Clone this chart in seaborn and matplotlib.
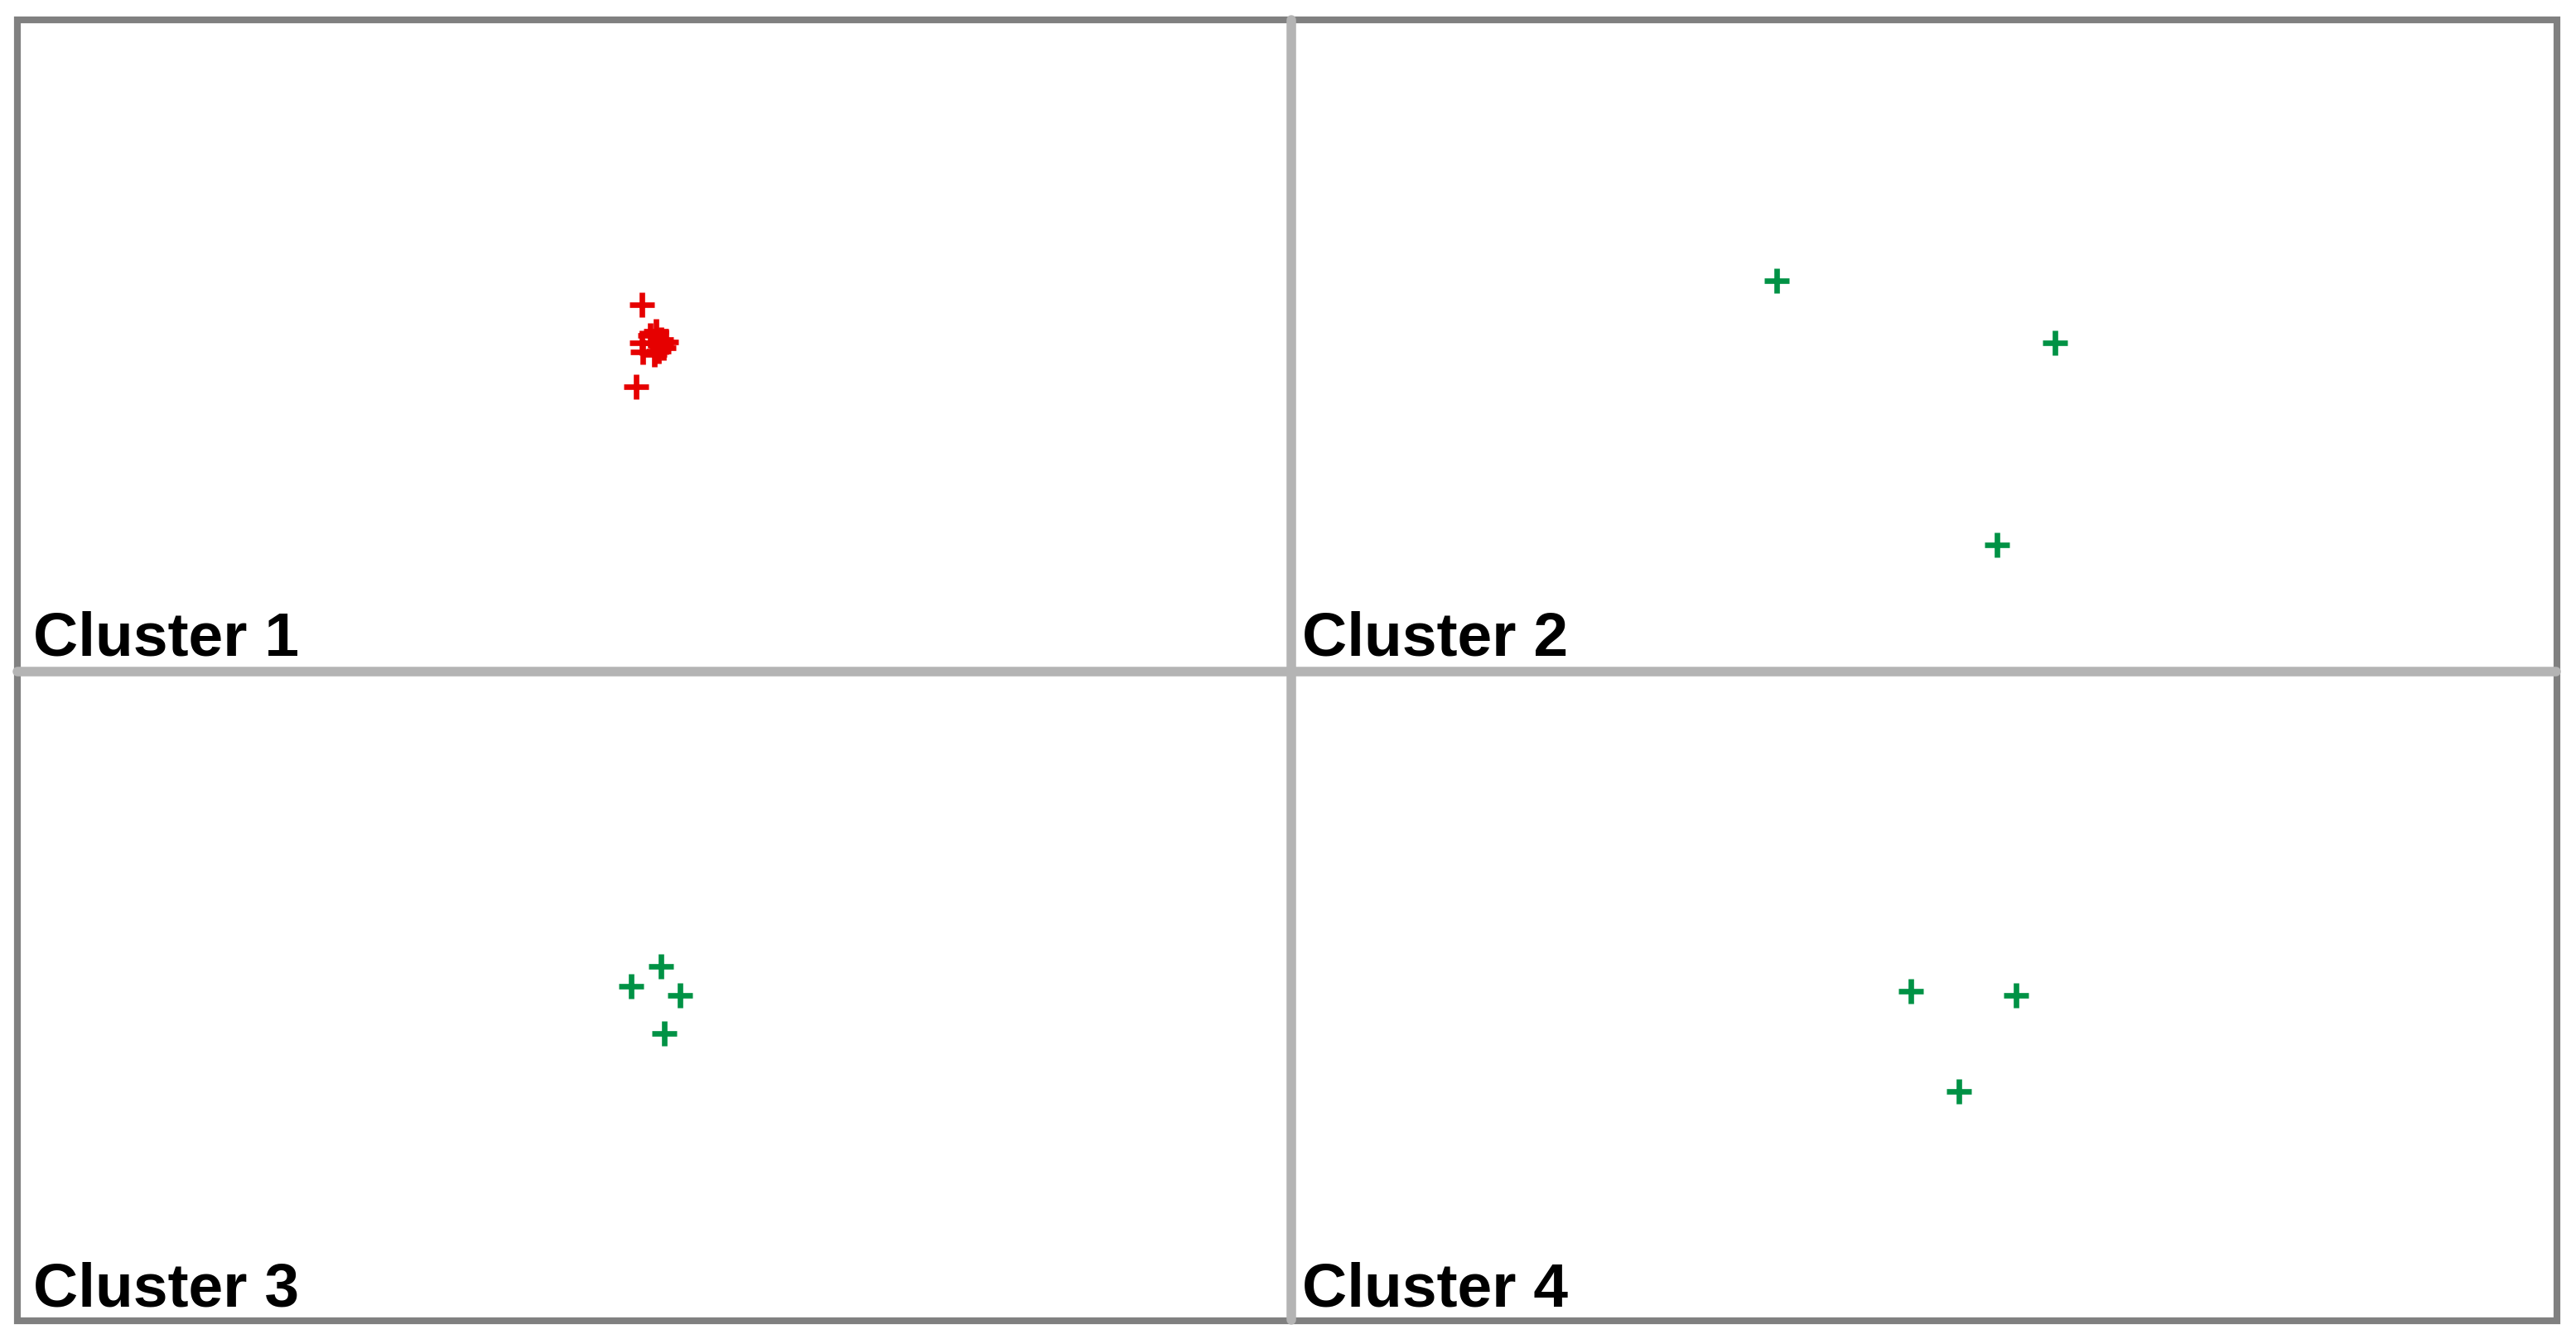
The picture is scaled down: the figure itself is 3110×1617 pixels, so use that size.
import seaborn as sns
import matplotlib.pyplot as plt
from matplotlib.patches import Rectangle
from matplotlib.lines import Line2D

# values, in percent of each panel (x from left, y from bottom)
c1_x = [49.0, 48.6, 49.0, 49.1, 50.1, 50.5, 50.7, 50.0, 49.7, 50.5, 49.9, 50.9, 50.3]
c1_y = [56.3, 43.7, 50.4, 49.0, 52.2, 51.0, 49.7, 48.7, 51.6, 50.1, 50.4, 50.6, 49.2]
c2_x = [38.4, 60.4, 55.8]
c2_y = [60.0, 50.4, 19.4]
c3_x = [48.2, 50.5, 52.0, 50.8]
c3_y = [51.5, 54.5, 50.1, 44.2]
c4_x = [49.0, 57.3, 52.8]
c4_y = [50.7, 50.1, 35.2]

labels = ["Cluster 1", "Cluster 2", "Cluster 3", "Cluster 4"]
red = "#e60000"
green = "#009245"

sns.set_style("white")
plt.rcParams['font.family'] = ['Liberation Sans', 'DejaVu Sans']

W, H = 3110, 1617
fig = plt.figure(figsize=(W / 100, H / 100), dpi=100)

# panel boxes in pixels: left, right, top, bottom
boxes = [(21, 1559, 24, 811), (1559, 3086, 24, 811),
         (21, 1559, 811, 1594), (1559, 3086, 811, 1594)]
data = [(c1_x, c1_y, red), (c2_x, c2_y, green), (c3_x, c3_y, green), (c4_x, c4_y, green)]
text_off = [(19, 20), (13, 20), (19, 17), (13, 17)]

for i, (l, r, t, b) in enumerate(boxes):
    ax = fig.add_axes([l / W, 1 - b / H, (r - l) / W, (b - t) / H])
    x, y, col = data[i]
    sns.scatterplot(x=x, y=y, marker="+", s=480, color=col, linewidth=4.8, ax=ax)
    ax.set_xlim(0, 100)
    ax.set_ylim(0, 100)
    ax.set_axis_off()
    dx, dy = text_off[i]
    ax.annotate(labels[i], xy=(0, 0), xycoords="axes fraction",
                xytext=(dx * 0.72, dy * 0.72), textcoords="offset points",
                fontsize=54, fontweight="bold", color="black",
                ha="left", va="baseline")

# divider lines and outer frame
gray = "#b4b4b4"
fig.add_artist(Line2D([1559 / W, 1559 / W], [1 - 24 / H, 1 - 1594 / H], color=gray, lw=8.3))
fig.add_artist(Line2D([21 / W, 3086 / W], [1 - 811 / H, 1 - 811 / H], color=gray, lw=8.3))
fig.add_artist(Rectangle((21 / W, 1 - 1594.5 / H), 3065.5 / W, 1570.5 / H,
                         fill=False, edgecolor="#808080", lw=5.9, transform=fig.transFigure))

plt.savefig("out.png", dpi=100, facecolor="white")
